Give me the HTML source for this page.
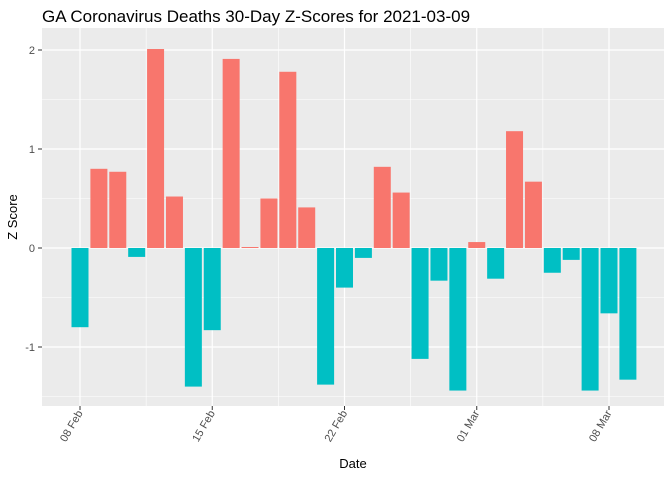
<!DOCTYPE html>
<html><head><meta charset="utf-8"><style>
body{margin:0;background:#fff;font-family:"Liberation Sans",sans-serif;}
</style></head><body>
<svg id="chart" width="672" height="480" xmlns="http://www.w3.org/2000/svg">
<rect width="672" height="480" fill="#fff"/>
<text x="42" y="22" font-size="17" fill="#000">GA Coronavirus Deaths 30-Day Z-Scores for 2021-03-09</text>
<rect x="42" y="28" width="622" height="378" fill="#ebebeb"/>
<g id="grid"></g><g id="bars"></g><g id="axes"></g>
<text x="353" y="468" font-size="13" text-anchor="middle">Date</text>
<text transform="translate(17,217) rotate(-90)" font-size="13" text-anchor="middle">Z Score</text>
</svg>
<script>
const dayOffsets=[0,1,2,3,4,5,6,7,8,9,10,11,12,13,14,15,16,17,18,19,20,21,22,23,24,25,26,27,28,29];
const zScores=[-0.80,0.80,0.77,-0.09,2.01,0.52,-1.40,-0.83,1.91,0.01,0.50,1.78,0.41,-1.38,-0.40,-0.10,0.82,0.56,-1.12,-0.33,-1.44,0.06,-0.31,1.18,0.67,-0.25,-0.12,-1.44,-0.66,-1.33];
const xTickDays=[0,7,14,21,28];
const xTickLabels=["08 Feb","15 Feb","22 Feb","01 Mar","08 Mar"];
const yTicks=[-1,0,1,2];
const NS="http://www.w3.org/2000/svg";
const x=d=>80+d*(132.25/7);
const y=v=>248-v*99;
const bw=0.9*132.25/7;
const grid=document.getElementById('grid'),bars=document.getElementById('bars'),axes=document.getElementById('axes');
function mk(tag,attrs,parent){const e=document.createElementNS(NS,tag);for(const k in attrs)e.setAttribute(k,attrs[k]);parent.appendChild(e);return e;}
// minor y
for(let v=-1.5;v<=2.2;v+=1){const l=mk('line',{x1:42,x2:664,y1:y(v),y2:y(v),stroke:'#fff','stroke-width':0.6},grid);

}
for(let i=0;i<xTickDays.length-1;i++){const d=(xTickDays[i]+xTickDays[i+1])/2;const l=mk('line',{x1:x(d),x2:x(d),y1:28,y2:406,stroke:'#fff','stroke-width':0.6},grid);

}
yTicks.forEach(v=>{const l=mk('line',{x1:42,x2:664,y1:y(v),y2:y(v),stroke:'#fff','stroke-width':1.2},grid);


mk('line',{x1:38,x2:42,y1:y(v),y2:y(v),stroke:'#333'},axes);
const t=mk('text',{x:35,y:y(v)+4,'font-size':11,fill:'#4d4d4d','text-anchor':'end'},axes);t.textContent=v;

});
xTickDays.forEach((d,i)=>{const l=mk('line',{x1:x(d),x2:x(d),y1:28,y2:406,stroke:'#fff','stroke-width':1.2},grid);


mk('line',{x1:x(d),x2:x(d),y1:406,y2:410,stroke:'#333'},axes);
const t=mk('text',{transform:`translate(${x(d)+3},413) rotate(-60)`,'font-size':11,fill:'#4d4d4d','text-anchor':'end'},axes);t.textContent=xTickLabels[i];

});
dayOffsets.forEach((d,i)=>{const v=zScores[i];const r=mk('rect',{x:x(d)-bw/2,width:bw,y:Math.min(y(v),y(0)),height:Math.abs(y(v)-y(0)),fill:v>=0?'#f8766d':'#00bfc4'},bars);

});
</script>
</body></html>
